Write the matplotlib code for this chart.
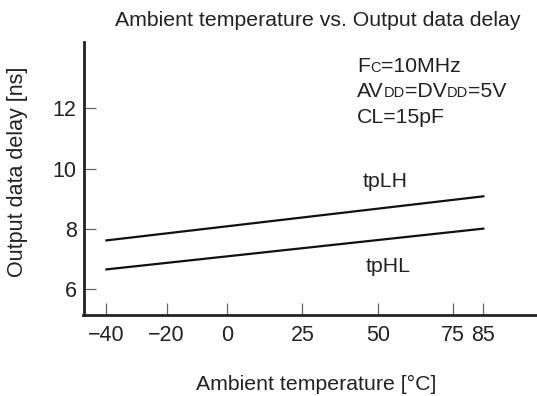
import matplotlib
matplotlib.use("Agg")
import matplotlib.pyplot as plt

plt.rcParams['font.family'] = ['Liberation Sans', 'DejaVu Sans']

# temperature [°C] and delay [ns]
temps = [-40, 85]
tplh = [7.62, 9.08]
tphl = [6.66, 8.01]
xticks = [-40, -20, 0, 25, 50, 75, 85]
yticks = [6, 8, 10, 12]

W, H = 537, 396
fig = plt.figure(figsize=(W / 100, H / 100), dpi=100)
ax = fig.add_axes([83.5 / W, (H - 315) / H, 1 - 83.5 / W, (315 - 41.7) / H])

ax.plot(temps, tplh, color='#111111', lw=1.6)
ax.plot(temps, tphl, color='#111111', lw=1.6)

ax.set_xlim(-47.6, 102.8)
ax.set_ylim(5.15, 14.2)
ax.set_xticks(xticks)
ax.set_yticks(yticks)

for side in ['top', 'right']:
    ax.spines[side].set_visible(False)
for side in ['left', 'bottom']:
    ax.spines[side].set_linewidth(2)
    ax.spines[side].set_color('#222222')

ax.tick_params(direction='in', length=8.7, width=0.9, color='#666666',
               labelsize=15.5, labelcolor='#222222')
ax.tick_params(axis='x', pad=7)
ax.tick_params(axis='y', pad=5)

ax.text(52.4, 9.39, 'tpLH', fontsize=15.3, color='#222222', ha='center', va='baseline')
ax.text(53.4, 6.58, 'tpHL', fontsize=15.3, color='#222222', ha='center', va='baseline')

fig.text(317.5 / W, 1 - 26.5 / H, 'Ambient temperature vs. Output data delay',
         fontsize=15.3, color='#222222', ha='center', va='baseline')
fig.text(316 / W, 1 - 390 / H, 'Ambient temperature [°C]',
         fontsize=15.3, color='#222222', ha='center', va='baseline')
fig.text(17.6 / W, 1 - 172 / H, 'Output data delay [ns]', rotation=90,
         fontsize=15.5, color='#222222', ha='center', va='center')


def rich_text(x, y, pieces):
    # pieces of text side by side on one baseline, with their own sizes
    renderer = fig.canvas.get_renderer()
    x = x / W
    for s, size in pieces:
        t = fig.text(x, 1 - y / H, s, fontsize=size, color='#222222',
                     ha='left', va='baseline')
        x += t.get_window_extent(renderer).width / W


big, small = 15.3, 10.5
rich_text(357, 72.3, [('F', big), ('C', small), ('=10MHz', big)])
rich_text(357, 97.3, [('AV', big), ('DD', small), ('=DV', big), ('DD', small), ('=5V', big)])
rich_text(357, 123.3, [('CL=15pF', big)])

fig.savefig('out.png', dpi=100)
